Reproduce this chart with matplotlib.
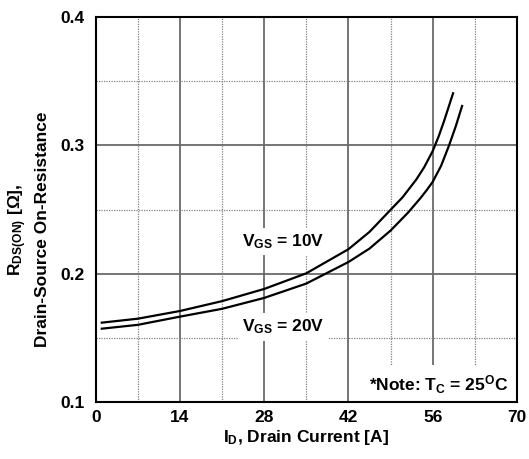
import numpy as np
import matplotlib
matplotlib.use("Agg")
import matplotlib.pyplot as plt
from matplotlib.patches import Rectangle

plt.rcParams['font.family'] = ['Liberation Sans', 'DejaVu Sans']
plt.rcParams['font.weight'] = 'bold'
plt.rcParams['mathtext.fontset'] = 'custom'
plt.rcParams['mathtext.rm'] = 'Liberation Sans:bold'
plt.rcParams['mathtext.it'] = 'Liberation Sans:bold'
plt.rcParams['mathtext.bf'] = 'Liberation Sans:bold'

# VGS = 10V
id_10 = [1, 7, 14, 21, 28, 35, 42, 45.5, 49, 51, 53.3, 54.6, 56, 57, 57.9, 59.4]
r_10 = [0.1617, 0.1648, 0.1708, 0.1785, 0.188, 0.2002, 0.219, 0.2325, 0.2497,
        0.2595, 0.2735, 0.283, 0.2955, 0.307, 0.319, 0.3407]

# VGS = 20V
id_20 = [1, 7, 14, 21, 28, 35, 42, 45.5, 49, 51.9, 54, 55, 56, 57.4, 58.7,
         59.85, 60.9]
r_20 = [0.157, 0.160, 0.1664, 0.1725, 0.181, 0.1922, 0.209, 0.2195, 0.2335,
        0.2475, 0.259, 0.265, 0.2715, 0.284, 0.2996, 0.315, 0.3308]

x_major = [0, 14, 28, 42, 56, 70]
x_minor = [7, 21, 35, 49, 63]
y_major = [0.1, 0.2, 0.3, 0.4]
y_minor = [0.15, 0.25, 0.35]

fs = 12.5

fig = plt.figure(figsize=(5.29, 4.59), dpi=100)
ax = fig.add_axes([0.181, 0.1248, 0.796, 0.8375])

ax.set_xlim(0, 70)
ax.set_ylim(0.1, 0.4)
ax.set_xticks(x_major)
ax.set_xticks(x_minor, minor=True)
ax.set_yticks(y_major)
ax.set_yticks(y_minor, minor=True)
ax.set_yticklabels(['0.1', '0.2', '0.3', '0.4'])
ax.tick_params(which='both', length=0, labelsize=fs, pad=8)
ax.tick_params(axis='x', pad=6)
ax.grid(which='major', color='#6a6a6a', lw=1.3, ls='-')
ax.grid(which='minor', color='#808080', lw=0.9, ls=(0, (1, 1)))
ax.set_axisbelow(True)
for s in ax.spines.values():
    s.set_linewidth(1.5)
    s.set_zorder(5)

ax.plot(id_10, r_10, color='black', lw=1.6, zorder=3)
ax.plot(id_20, r_20, color='black', lw=1.6, zorder=3)

box = dict(facecolor='white', edgecolor='none', pad=3)
ax.text(31.2, 0.2247, r'$\mathregular{V_{GS}}$ = 10V', ha='center', va='center',
        fontsize=fs, fontweight='bold', bbox=box, zorder=4)
ax.text(31.2, 0.1583, r'$\mathregular{V_{GS}}$ = 20V', ha='center', va='center',
        fontsize=fs, fontweight='bold', bbox=box, zorder=4)

ax.add_patch(Rectangle((42.6, 0.1), 27.4, 0.0287, facecolor='white',
                       edgecolor='none', zorder=2.5))
ax.text(68.6, 0.113, r'*Note: $\mathregular{T_C}$ = 25$\mathregular{^O}$C', ha='right',
        va='center', fontsize=fs, fontweight='bold', zorder=4)

ax.set_xlabel(r'$\mathregular{I_D}$, Drain Current [A]', fontsize=fs,
              fontweight='bold', labelpad=2)
fig.text(0.034, 0.5, r'$\mathregular{R_{DS(ON)}}$ [$\mathregular{\Omega}$],',
         rotation=90, ha='center', va='center', fontsize=fs, fontweight='bold')
fig.text(0.081, 0.5, 'Drain-Source On-Resistance', rotation=90, ha='center',
         va='center', fontsize=fs, fontweight='bold')

fig.savefig('out.png', dpi=100)
